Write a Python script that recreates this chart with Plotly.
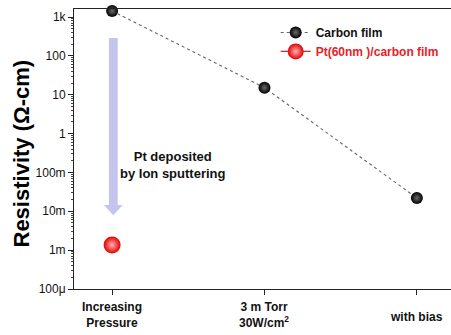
import plotly.graph_objects as go

# ---- data ----
categories = ["Increasing<br>Pressure", "3 m Torr<br>30W/cm<sup>2</sup>", "with bias"]
carbon_x = [0, 1, 2]
carbon_vals = [1430, 15.2, 0.022]
pt_x = [0]
pt_vals = [0.00136]
ytick_vals = [1e-4, 1e-3, 1e-2, 1e-1, 1, 10, 100, 1000]
ytick_text = ["100μ", "1m", "10m", "100m", "1", "10", "100", "1k"]
# arrow annotation (log10 y, x in category units)
arrow_x = 0.008
arrow_top = 2.46
arrow_head_top = -1.84
arrow_tip = -2.10

FONT = "Liberation Sans, Arial, sans-serif"

fig = go.Figure()
fig.add_trace(go.Scatter(
    x=carbon_x, y=carbon_vals, mode="lines+markers", name="<b>Carbon film</b>",
    line=dict(color="#666666", width=1.1, dash="dot"),
    marker=dict(size=12, color="#000000",
                gradient=dict(type="radial", color="#6a6a6a"),
                line=dict(width=0)),
    cliponaxis=False,
))
fig.add_trace(go.Scatter(
    x=pt_x, y=pt_vals, mode="lines+markers",
    name="<b><span style='color:#e8202a'>Pt(60nm )/carbon film</span></b>",
    line=dict(color="#e8202a", width=1.2),
    marker=dict(size=17, color="#e00000",
                gradient=dict(type="radial", color="#ffb0b0"),
                line=dict(width=0)),
    cliponaxis=False,
))

# arrow (shaft + head), y in data values on log axis
sw = 0.029
hw = 0.062
fig.add_shape(type="rect", xref="x", yref="y",
              x0=arrow_x - sw, x1=arrow_x + sw,
              y0=10 ** arrow_head_top, y1=10 ** arrow_top,
              fillcolor="#c4c5ee", line=dict(width=0), layer="below")
fig.add_shape(type="path", xref="x", yref="y",
              path=(f"M {arrow_x-hw},{10**arrow_head_top} L {arrow_x+hw},{10**arrow_head_top} "
                    f"L {arrow_x},{10**arrow_tip} Z"),
              fillcolor="#c4c5ee", line=dict(width=0), layer="below")

fig.add_annotation(x=0.401, y=-0.82, xref="x", yref="y",
                   text="<b>Pt deposited<br>by Ion sputtering</b>", showarrow=False,
                   font=dict(family=FONT, size=13, color="#111111"), align="center")

# x category labels
label_y = [-0.093, -0.093, -0.099]
for i, lab in enumerate(categories):
    fig.add_annotation(x=carbon_x[i], y=label_y[i], xref="x", yref="paper",
                       text=f"<b>{lab}</b>", showarrow=False, yanchor="middle",
                       font=dict(family=FONT, size=12, color="#111111"), align="center")

# y title
fig.add_annotation(x=(21 - 74) / (451 - 74), y=(289 - 153.5) / 280, xref="paper", yref="paper",
                   text="<b>Resistivity (Ω-cm)</b>", showarrow=False, textangle=-90,
                   font=dict(family=FONT, size=22, color="#000000"),
                   xanchor="center", yanchor="middle")

minor_vals = [m * 10 ** e for e in range(-4, 3) for m in range(2, 10)]

fig.update_layout(
    width=451, height=335,
    margin=dict(l=74, r=0, t=9, b=46),
    paper_bgcolor="white", plot_bgcolor="white",
    showlegend=True,
    legend=dict(x=0.535, y=0.968, xanchor="left", yanchor="top",
                bgcolor="rgba(0,0,0,0)", borderwidth=0,
                font=dict(family=FONT, size=12, color="#111111"),
                tracegroupgap=0, itemwidth=30),
    xaxis=dict(range=[-0.25, 2.224], tickvals=carbon_x,
               showticklabels=False, ticks="outside", ticklen=5, tickcolor="#222",
               showline=True, linecolor="#222", linewidth=1, mirror=True,
               showgrid=False, zeroline=False),
    yaxis=dict(type="log", range=[-4, 3.206], tickvals=ytick_vals, ticktext=ytick_text,
               ticks="outside", ticklen=5, tickcolor="#222",
               tickfont=dict(family=FONT, size=12, color="#111111"),
               tickprefix="<b>", ticksuffix="</b>",
               showline=True, linecolor="#222", linewidth=1,
               showgrid=False, zeroline=False,
               minor=dict(tickvals=minor_vals, ticks="outside", ticklen=2, tickcolor="#444", showgrid=False)),
    font=dict(family=FONT, size=12),
)

fig.write_html("out.html", config={"displayModeBar": False},
               post_script="document.body.style.margin='0';document.body.style.padding='0';")
